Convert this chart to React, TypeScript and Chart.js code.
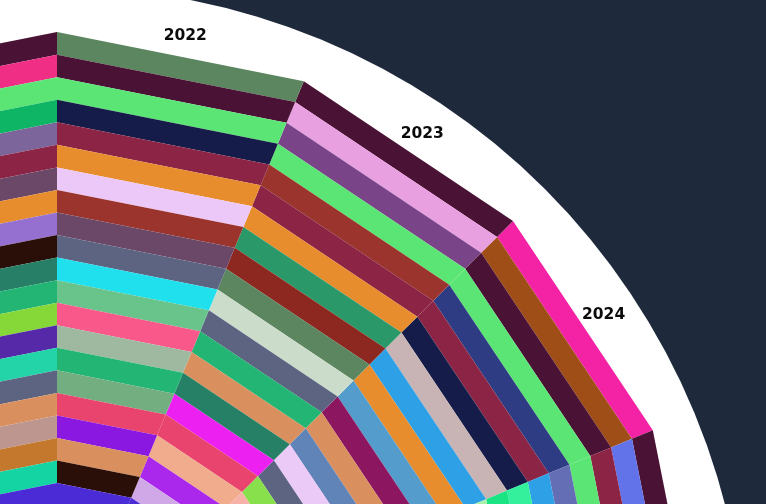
import React, { useEffect, useRef } from 'react';
import { Chart, registerables } from 'chart.js';

Chart.register(...registerables);

// 16 angular categories (clockwise); 2022 starts at the top spoke
const years = ['2009', '2010', '2011', '2012', '2013', '2014', '2015', '2016', '2017', '2018', '2019', '2020', '2021', '2022', '2023', '2024'];

// radial size of every ring (inner -> outer), each cell is one unit
const ringSizes = [1, 1, 1, 1, 1, 1, 1, 1, 1, 1, 1, 1, 1, 1, 1, 1, 1, 1, 1, 1, 1, 1, 1, 1, 1, 1, 1, 1];

// radial axis range (small hole in the middle)
const radialMin = -0.6;
const radialMax = 30;

// cell colours per year, listed from the OUTER ring to the INNER ring
const colors2009 = ['#4a1234', '#6272e8', '#8c2445', '#5be575', '#646eb4', '#2ea0e6', '#34f09c', '#1ae484', '#a8f0a8', '#e88d2e', '#5c6482', '#da905e', '#22b573', '#9b342c', '#161c4a', '#f8588a', '#6c4868', '#20e0ee', '#8a18e0', '#72ae80', '#c4782e', '#4b2bd6', '#ecc8f8', '#267f66', '#f02e86', '#2a0e08', '#9fb8a0', '#7a4488'];
const colors2021 = ['#4a1234', '#f02e86', '#5be575', '#0db565', '#7b659b', '#8c2445', '#6c4868', '#e88d2e', '#9670d0', '#2a0e08', '#267f66', '#22b573', '#86d838', '#5529a8', '#22d4a8', '#5c6482', '#da905e', '#bd9690', '#c4782e', '#14d4a4', '#4b2bd6', '#e88d2e', '#5c8660', '#161c4a', '#f8588a', '#2ea0e6', '#9b342c', '#72ae80'];
const colors2022 = ['#5c8660', '#4a1234', '#5be575', '#161c4a', '#8c2445', '#e88d2e', '#ecc8f8', '#9b342c', '#6c4868', '#5c6482', '#20e0ee', '#68c48a', '#f8588a', '#9fb8a0', '#22b573', '#72ae80', '#e8446e', '#8a18e0', '#da905e', '#2a0e08', '#4b2bd6', '#267f66', '#f0ac8c', '#2e3c84', '#86d838', '#c8b4b4', '#aa28ec', '#14d4a4'];
const colors2023 = ['#4a1234', '#e8a0e0', '#7a4488', '#5be575', '#9b342c', '#8c2445', '#e88d2e', '#2a9868', '#8c2820', '#5c8660', '#ccdccb', '#5c6482', '#22b573', '#da905e', '#268066', '#ec20f0', '#e8446e', '#f0ac8c', '#aa28ec', '#d0a8e8', '#4b2bd6', '#2ea0e6', '#6c4868', '#f8588a', '#161c4a', '#86d838', '#bd9690', '#0db565'];
const colors2024 = ['#f423a6', '#a04e18', '#4a1234', '#5be575', '#2e3c84', '#8c2445', '#161c4a', '#c8b4b4', '#2ea0e6', '#e88d2e', '#549ccc', '#8c1660', '#da905e', '#6084b8', '#eccaf8', '#5c6482', '#88e04c', '#f6b2a8', '#267f66', '#9670d0', '#22b573', '#2a0e08', '#f02e86', '#68c48a', '#9b342c', '#20e0ee', '#7b659b', '#c4782e'];
const colorsOther = ['#4a1234', '#5be575', '#8c2445', '#e88d2e', '#5c6482', '#22b573', '#da905e', '#161c4a', '#f8588a', '#6c4868', '#2ea0e6', '#9b342c', '#ecc8f8', '#267f66', '#72ae80', '#e8446e', '#8a18e0', '#20e0ee', '#c4782e', '#5c8660', '#2e3c84', '#f0ac8c', '#86d838', '#aa28ec', '#14d4a4', '#bd9690', '#4b2bd6', '#2a0e08'];

const yearColors: Record<string, string[]> = {
  '2009': colors2009,
  '2021': colors2021,
  '2022': colors2022,
  '2023': colors2023,
  '2024': colors2024,
};

const labelFont = 'bold 15.5px "DejaVu Sans"';
const labelColor = '#0b0b0b';
const pageBg = '#1e293b';

const CANVAS = 1380;

export default function App() {
  const ref = useRef<HTMLCanvasElement | null>(null);

  useEffect(() => {
    if (!ref.current) return;

    // cumulative ring boundaries
    const bounds: number[] = [0];
    ringSizes.forEach((v, i) => bounds.push(bounds[i] + v));
    const total = bounds[bounds.length - 1];
    const n = years.length;
    const nr = ringSizes.length;

    const datasets: any[] = [];
    years.forEach((year, s) => {
      const cols = yearColors[year] || colorsOther;
      for (let k = 1; k <= nr; k++) {
        const value = bounds[k];
        const data = years.map((_, i) => (i === s || i === (s + 1) % n ? value : null));
        datasets.push({
          label: `${year} ring ${k}`,
          data,
          backgroundColor: cols[nr - k],
          borderWidth: 0,
          pointRadius: 0,
          fill: k === 1 ? 'origin' : '-1',
          spanGaps: false,
        });
      }
    });

    const whiteDisc = {
      id: 'whiteDisc',
      beforeDatasetsDraw(chart: any) {
        const sc = chart.scales.r;
        const ctx = chart.ctx;
        ctx.save();
        ctx.beginPath();
        ctx.arc(sc.xCenter, sc.yCenter, sc.drawingArea, 0, Math.PI * 2);
        ctx.fillStyle = '#ffffff';
        ctx.fill();
        ctx.restore();
      },
    };

    const sectorLabels = {
      id: 'sectorLabels',
      afterDatasetsDraw(chart: any) {
        const sc = chart.scales.r;
        const ctx = chart.ctx;
        const dist = sc.getDistanceFromCenterForValue(total) + 12.5;
        ctx.save();
        ctx.font = labelFont;
        ctx.fillStyle = labelColor;
        ctx.textAlign = 'center';
        ctx.textBaseline = 'alphabetic';
        years.forEach((y, i) => {
          const p = sc.getPointPosition(i, dist, Math.PI / n);
          ctx.fillText(y, p.x, p.y + 7.5);
        });
        ctx.restore();
      },
    };

    const chart = new Chart(ref.current, {
      type: 'radar',
      data: { labels: years, datasets },
      options: {
        animation: false,
        responsive: false,
        events: [],
        layout: { padding: 0 },
        elements: {
          line: { borderWidth: 0, tension: 0 },
          point: { radius: 0, hoverRadius: 0 },
        },
        plugins: {
          legend: { display: false },
          tooltip: { enabled: false },
          filler: { propagate: false },
        },
        scales: {
          r: {
            min: radialMin,
            max: radialMax,
            startAngle: 67.5,
            ticks: { display: false },
            grid: { display: false },
            angleLines: { display: false },
            pointLabels: { display: false },
          },
        },
      },
      plugins: [whiteDisc, sectorLabels],
    } as any);

    return () => chart.destroy();
  }, []);

  return (
    <div style={{ position: 'fixed', inset: 0, overflow: 'hidden', background: pageBg }}>
      <canvas
        ref={ref}
        width={CANVAS}
        height={CANVAS}
        style={{ position: 'absolute', left: -633, top: -13, width: CANVAS, height: CANVAS }}
      />
    </div>
  );
}
